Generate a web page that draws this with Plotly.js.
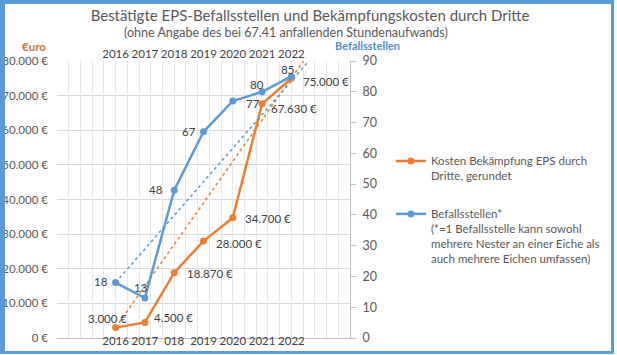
<!DOCTYPE html>
<html>
<head>
<meta charset="utf-8">
<script src="https://cdn.plot.ly/plotly-3.0.1.min.js"></script>
<style>
  html, body { margin: 0; padding: 0; background: #ffffff; }
  #wrap { position: relative; width: 617px; height: 355px; }
  #chart { position: absolute; left: 0; top: 0; width: 617px; height: 355px; }
  #frame { position: absolute; left: 0; top: 0; width: 614px; height: 354px; box-sizing: border-box;
           border-left: 5px solid #5B9BD5; border-top: 4px solid #5B9BD5; border-right: 3px solid #5B9BD5;
           border-bottom: 3px solid #5B9BD5; pointer-events: none; }
</style>
</head>
<body>
<div id="wrap"><div id="chart"></div><div id="frame"></div></div>
<script>
// ---- data ----
const years = [2016, 2017, 2018, 2019, 2020, 2021, 2022];
const kosten = [3000, 4500, 18870, 28000, 34700, 67630, 75000];
const befall = [18, 13, 48, 67, 77, 80, 85];
const bottomTickText = ['2016', '2017', '018', '2019', '2020', '2021', '2022'];
const topTickText = ['2016', '2017', '2018', '2019', '2020', '2021', '2022'];
const kostenTrendX = [2016, 2023.0];
const kostenTrendY = [3000, 87000];
const befallTrendX = [2016, 2023.1];
const befallTrendY = [18, 95.5];
const kostenName = 'Kosten Bekämpfung EPS durch<br>Dritte, gerundet';
const befallName = 'Befallsstellen*<br>(*=1 Befallsstelle kann sowohl<br>mehrere Nester an einer Eiche als<br>auch mehrere Eichen umfassen)';

// ---- styles ----
const ORANGE = '#ED7D31';
const BLUE = '#5B9BD5';
const GREY = '#595959';
const LABEL = '#404040';
const FONT = 'Lato, "Open Sans", sans-serif';
const kostenLabelPos = [
  {xa: 'center', dx: -8, dy: 9}, {xa: 'left', dx: 7, dy: 5}, {xa: 'left', dx: 11, dy: -1},
  {xa: 'left', dx: 10, dy: -2}, {xa: 'left', dx: 10, dy: -1}, {xa: 'left', dx: 7, dy: -5},
  {xa: 'left', dx: 10, dy: -3}
];
const befallLabelPos = [
  {xa: 'right', dx: -6, dy: 1}, {xa: 'center', dx: -4, dy: 10}, {xa: 'right', dx: -9, dy: 1},
  {xa: 'right', dx: -6, dy: 0}, {xa: 'left', dx: 11, dy: -2}, {xa: 'center', dx: -5, dy: 7},
  {xa: 'center', dx: -4, dy: 7}
];

const fmt = v => v.toLocaleString('de-DE');

const traces = [
  { x: [null], y: [null], xaxis: 'x3', yaxis: 'y', showlegend: false, hoverinfo: 'skip', mode: 'lines' },
  { x: kostenTrendX, y: kostenTrendY, xaxis: 'x', yaxis: 'y', mode: 'lines', showlegend: false,
    line: {color: ORANGE, width: 1.5, dash: 'dot'}, cliponaxis: false, hoverinfo: 'skip' },
  { x: years, y: kosten, xaxis: 'x', yaxis: 'y', mode: 'lines+markers', name: kostenName, legendgroup: 'a',
    line: {color: ORANGE, width: 2.5}, marker: {color: ORANGE, size: 7} },
  { x: befallTrendX, y: befallTrendY, xaxis: 'x2', yaxis: 'y2', mode: 'lines', showlegend: false,
    line: {color: BLUE, width: 1.5, dash: 'dot'}, cliponaxis: false, hoverinfo: 'skip' },
  { x: years, y: befall, xaxis: 'x2', yaxis: 'y2', mode: 'lines+markers', name: befallName, legendgroup: 'b',
    line: {color: BLUE, width: 2.5}, marker: {color: BLUE, size: 7} }
];

const annotations = [];
years.forEach((yr, i) => {
  const p = kostenLabelPos[i];
  annotations.push({ x: yr, y: kosten[i], xref: 'x', yref: 'y', text: fmt(kosten[i]) + ' €', showarrow: false,
    xanchor: p.xa, yanchor: 'middle', xshift: p.dx, yshift: p.dy, font: {family: FONT, size: 11.5, color: LABEL} });
  const q = befallLabelPos[i];
  annotations.push({ x: yr, y: befall[i], xref: 'x2', yref: 'y2', text: String(befall[i]), showarrow: false,
    xanchor: q.xa, yanchor: 'middle', xshift: q.dx, yshift: q.dy, font: {family: FONT, size: 11.5, color: LABEL} });
});
annotations.push({ x: (32 - 57) / 315, y: (338 - 47) / 277, xref: 'paper', yref: 'paper', text: '<b>€uro</b>', showarrow: false,
  xanchor: 'center', yanchor: 'middle', font: {family: FONT, size: 11.5, color: '#C9783A'} });
annotations.push({ x: (391 - 57) / 315, y: (338 - 46) / 277, xref: 'paper', yref: 'paper', text: '<b>Befallsstellen</b>', showarrow: false,
  xanchor: 'center', yanchor: 'middle', font: {family: FONT, size: 11, color: '#4F8FCB'} });
annotations.push({ x: (303 - 57) / 315, y: (338 - 33) / 277, xref: 'paper', yref: 'paper', text: '(ohne Angabe des bei 67.41 anfallenden Stundenaufwands)',
  showarrow: false, xanchor: 'center', yanchor: 'middle', font: {family: FONT, size: 12.5, color: GREY} });

const layout = {
  width: 617, height: 355,
  margin: {l: 57, r: 245, t: 61, b: 17, pad: 0},
  paper_bgcolor: '#ffffff', plot_bgcolor: '#ffffff',
  separators: ',.',
  font: {family: FONT, color: GREY, size: 11.5},
  title: { text: 'Bestätigte EPS-Befallsstellen und Bekämpfungskosten durch Dritte', x: 310 / 617, xanchor: 'center',
    y: 1 - 16 / 355, yanchor: 'middle', yref: 'container', font: {family: FONT, size: 15, color: GREY} },
  showlegend: true,
  legend: { x: (416 - 57) / 315, y: (338 - 147) / 277, xanchor: 'left', yanchor: 'top', valign: 'top',
    bgcolor: 'rgba(0,0,0,0)', tracegroupgap: 20, font: {family: FONT, size: 11.5, color: GREY} },
  xaxis: { range: [2014, 2024], tickmode: 'array', tickvals: years, ticktext: bottomTickText, showgrid: false,
    zeroline: false, showline: true, linecolor: '#bfbfbf', linewidth: 1, ticks: '', ticklabelstandoff: -8,
    tickfont: {family: FONT, size: 11.5, color: LABEL} },
  xaxis2: { overlaying: 'x', side: 'top', range: [2014, 2024], tickmode: 'array', tickvals: years, ticktext: topTickText,
    showgrid: false, zeroline: false, showline: false, ticks: '', tickfont: {family: FONT, size: 11.5, color: LABEL} },
  xaxis3: { overlaying: 'x', range: [2014, 2024], tickmode: 'linear', tick0: 2014, dtick: 0.4, showgrid: true,
    gridcolor: '#e6e6e6', gridwidth: 1, zeroline: false, showline: false, showticklabels: false, ticks: '' },
  yaxis: { range: [0, 80000], tickmode: 'linear', tick0: 0, dtick: 10000, tickformat: ',.0f', ticksuffix: ' €',
    showgrid: true, gridcolor: '#d9d9d9', zeroline: false, showline: false, ticks: '', ticklabelstandoff: 8,
    tickfont: {family: FONT, size: 11.5, color: GREY} },
  yaxis2: { overlaying: 'y', side: 'right', range: [0, 90], tickmode: 'linear', tick0: 0, dtick: 10, showgrid: false,
    zeroline: false, showline: true, linecolor: '#bfbfbf', ticks: 'outside', ticklen: 5, tickcolor: '#bfbfbf',
    ticklabelstandoff: 4, tickfont: {family: FONT, size: 12.5, color: GREY} },
  annotations: annotations
};

Plotly.newPlot('chart', traces, layout, {displayModeBar: false, staticPlot: true});
</script>
</body>
</html>
